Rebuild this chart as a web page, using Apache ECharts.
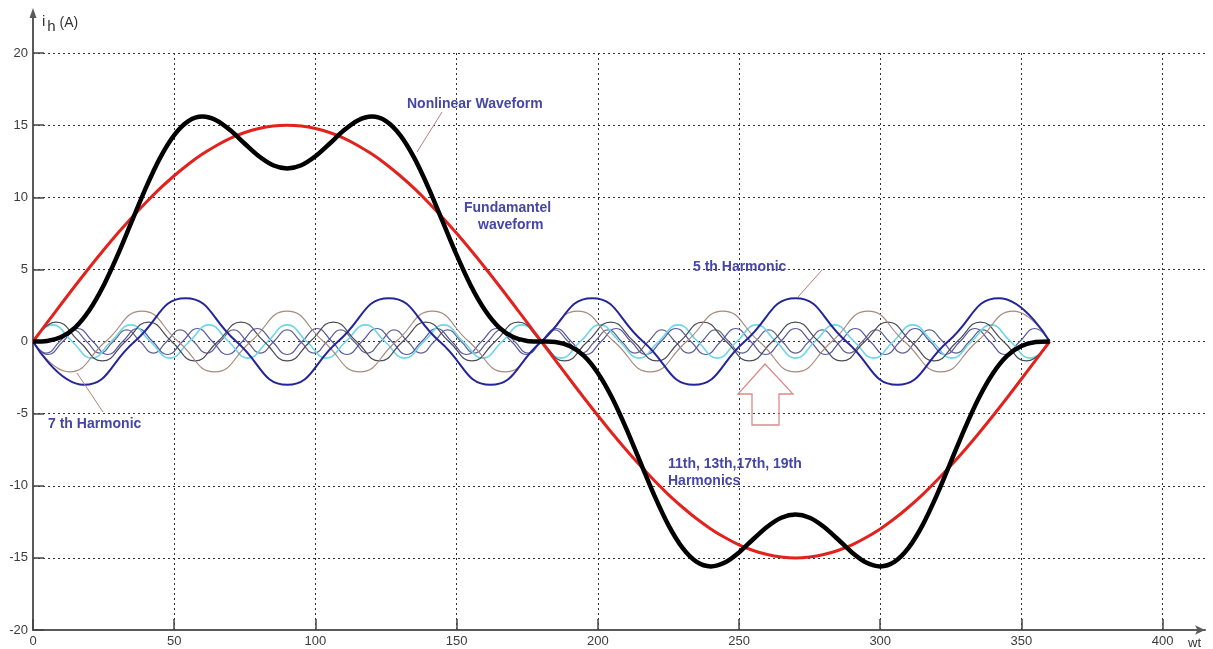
<!DOCTYPE html>
<html>
<head>
<meta charset="utf-8">
<title>Harmonic currents</title>
<script src="https://cdn.jsdelivr.net/npm/echarts@6/dist/echarts.min.js"></script>
<style>
  html, body { margin: 0; padding: 0; background: #ffffff; }
  #chart { width: 1213px; height: 649px; }
</style>
</head>
<body>
<div id="chart"></div>
<script>
// Axis tick values
const xTicks = [0, 50, 100, 150, 200, 250, 300, 350, 400];

// Fundamental current (A) against wt (deg)
const fundX = [0, 5, 10, 15, 20, 25, 30, 35, 40, 45, 50, 55, 60, 65, 70, 75, 80, 85, 90,
  95, 100, 105, 110, 115, 120, 125, 130, 135, 140, 145, 150, 155, 160, 165, 170, 175, 180,
  185, 190, 195, 200, 205, 210, 215, 220, 225, 230, 235, 240, 245, 250, 255, 260, 265, 270,
  275, 280, 285, 290, 295, 300, 305, 310, 315, 320, 325, 330, 335, 340, 345, 350, 355, 360];
const fundY = [0, 1.31, 2.6, 3.88, 5.13, 6.34, 7.5, 8.6, 9.64, 10.61, 11.49, 12.29, 12.99,
  13.59, 14.1, 14.49, 14.77, 14.94, 15, 14.94, 14.77, 14.49, 14.1, 13.59, 12.99, 12.29,
  11.49, 10.61, 9.64, 8.6, 7.5, 6.34, 5.13, 3.88, 2.6, 1.31, 0,
  -1.31, -2.6, -3.88, -5.13, -6.34, -7.5, -8.6, -9.64, -10.61, -11.49, -12.29, -12.99,
  -13.59, -14.1, -14.49, -14.77, -14.94, -15, -14.94, -14.77, -14.49, -14.1, -13.59, -12.99,
  -12.29, -11.49, -10.61, -9.64, -8.6, -7.5, -6.34, -5.13, -3.88, -2.6, -1.31, 0];

// Nonlinear (distorted) current
const nonlinX = [0, 5, 10, 15, 20, 25, 30, 35, 40, 45, 50, 55, 60, 65, 70, 75, 80, 85, 90,
  95, 100, 105, 110, 115, 120, 125, 130, 135, 140, 145, 150, 155, 160, 165, 170, 175, 180,
  185, 190, 195, 200, 205, 210, 215, 220, 225, 230, 235, 240, 245, 250, 255, 260, 265, 270,
  275, 280, 285, 290, 295, 300, 305, 310, 315, 320, 325, 330, 335, 340, 345, 350, 355, 360];
const nonlinY = [0, 0.04, 0.31, 0.98, 2.18, 3.88, 6.0, 8.34, 10.67, 12.73, 14.31, 15.28, 15.59,
  15.32, 14.62, 13.71, 12.84, 12.22, 12.0, 12.22, 12.84, 13.71, 14.62, 15.32, 15.59, 15.28,
  14.31, 12.73, 10.67, 8.34, 6.0, 3.88, 2.18, 0.98, 0.31, 0.04, 0,
  -0.04, -0.31, -0.98, -2.18, -3.88, -6.0, -8.34, -10.67, -12.73, -14.31, -15.28, -15.59,
  -15.32, -14.62, -13.71, -12.84, -12.22, -12.0, -12.22, -12.84, -13.71, -14.62, -15.32,
  -15.59, -15.28, -14.31, -12.73, -10.67, -8.34, -6.0, -3.88, -2.18, -0.98, -0.31, -0.04, 0];

// 5th harmonic: zero crossings and extremes
const h5X = [0, 18, 36, 54, 72, 90, 108, 126, 144, 162, 180, 198, 216, 234, 252, 270, 288,
  306, 324, 342, 360];
const h5Y = [0, -3, 0, 3, 0, -3, 0, 3, 0, -3, 0, 3, 0, -3, 0, 3, 0, -3, 0, 3, 0];

// 7th harmonic
const h7X = [0, 12.86, 25.71, 38.57, 51.43, 64.29, 77.14, 90, 102.86, 115.71, 128.57, 141.43,
  154.29, 167.14, 180, 192.86, 205.71, 218.57, 231.43, 244.29, 257.14, 270, 282.86, 295.71,
  308.57, 321.43, 334.29, 347.14, 360];
const h7Y = [0, -2.1, 0, 2.1, 0, -2.1, 0, 2.1, 0, -2.1, 0, 2.1, 0, -2.1, 0, 2.1, 0, -2.1, 0, 2.1,
  0, -2.1, 0, 2.1, 0, -2.1, 0, 2.1, 0];

// 11th harmonic
const h11X = [0, 8.18, 16.36, 24.55, 32.73, 40.91, 49.09, 57.27, 65.45, 73.64, 81.82, 90,
  98.18, 106.36, 114.55, 122.73, 130.91, 139.09, 147.27, 155.45, 163.64, 171.82, 180,
  188.18, 196.36, 204.55, 212.73, 220.91, 229.09, 237.27, 245.45, 253.64, 261.82, 270,
  278.18, 286.36, 294.55, 302.73, 310.91, 319.09, 327.27, 335.45, 343.64, 351.82, 360];
const h11Y = [0, 1.35, 0, -1.35, 0, 1.35, 0, -1.35, 0, 1.35, 0, -1.35, 0, 1.35, 0, -1.35,
  0, 1.35, 0, -1.35, 0, 1.35, 0, -1.35, 0, 1.35, 0, -1.35, 0, 1.35, 0, -1.35, 0, 1.35, 0, -1.35,
  0, 1.35, 0, -1.35, 0, 1.35, 0, -1.35, 0];

// 13th harmonic
const h13X = [0, 6.92, 13.85, 20.77, 27.69, 34.62, 41.54, 48.46, 55.38, 62.31, 69.23, 76.15,
  83.08, 90, 96.92, 103.85, 110.77, 117.69, 124.62, 131.54, 138.46, 145.38, 152.31, 159.23,
  166.15, 173.08, 180, 186.92, 193.85, 200.77, 207.69, 214.62, 221.54, 228.46, 235.38,
  242.31, 249.23, 256.15, 263.08, 270, 276.92, 283.85, 290.77, 297.69, 304.62, 311.54,
  318.46, 325.38, 332.31, 339.23, 346.15, 353.08, 360];
const h13Y = [0, 1.15, 0, -1.15, 0, 1.15, 0, -1.15, 0, 1.15, 0, -1.15, 0, 1.15, 0, -1.15,
  0, 1.15, 0, -1.15, 0, 1.15, 0, -1.15, 0, 1.15, 0, -1.15, 0, 1.15, 0, -1.15, 0, 1.15, 0, -1.15,
  0, 1.15, 0, -1.15, 0, 1.15, 0, -1.15, 0, 1.15, 0, -1.15, 0, 1.15, 0, -1.15, 0];

// 17th harmonic
const h17X = [0, 5.29, 10.59, 15.88, 21.18, 26.47, 31.76, 37.06, 42.35, 47.65, 52.94, 58.24,
  63.53, 68.82, 74.12, 79.41, 84.71, 90, 95.29, 100.59, 105.88, 111.18, 116.47, 121.76,
  127.06, 132.35, 137.65, 142.94, 148.24, 153.53, 158.82, 164.12, 169.41, 174.71, 180,
  185.29, 190.59, 195.88, 201.18, 206.47, 211.76, 217.06, 222.35, 227.65, 232.94, 238.24,
  243.53, 248.82, 254.12, 259.41, 264.71, 270, 275.29, 280.59, 285.88, 291.18, 296.47,
  301.76, 307.06, 312.35, 317.65, 322.94, 328.24, 333.53, 338.82, 344.12, 349.41, 354.71, 360];
const h17Y = [0, -0.9, 0, 0.9, 0, -0.9, 0, 0.9, 0, -0.9, 0, 0.9, 0, -0.9, 0, 0.9,
  0, -0.9, 0, 0.9, 0, -0.9, 0, 0.9, 0, -0.9, 0, 0.9, 0, -0.9, 0, 0.9, 0, -0.9, 0, 0.9,
  0, -0.9, 0, 0.9, 0, -0.9, 0, 0.9, 0, -0.9, 0, 0.9, 0, -0.9, 0, 0.9, 0, -0.9, 0, 0.9,
  0, -0.9, 0, 0.9, 0, -0.9, 0, 0.9, 0, -0.9, 0, 0.9, 0];

// 19th harmonic
const h19X = [0, 4.74, 9.47, 14.21, 18.95, 23.68, 28.42, 33.16, 37.89, 42.63, 47.37, 52.11,
  56.84, 61.58, 66.32, 71.05, 75.79, 80.53, 85.26, 90, 94.74, 99.47, 104.21, 108.95, 113.68,
  118.42, 123.16, 127.89, 132.63, 137.37, 142.11, 146.84, 151.58, 156.32, 161.05, 165.79,
  170.53, 175.26, 180, 184.74, 189.47, 194.21, 198.95, 203.68, 208.42, 213.16, 217.89,
  222.63, 227.37, 232.11, 236.84, 241.58, 246.32, 251.05, 255.79, 260.53, 265.26, 270,
  274.74, 279.47, 284.21, 288.95, 293.68, 298.42, 303.16, 307.89, 312.63, 317.37, 322.11,
  326.84, 331.58, 336.32, 341.05, 345.79, 350.53, 355.26, 360];
const h19Y = [0, -0.8, 0, 0.8, 0, -0.8, 0, 0.8, 0, -0.8, 0, 0.8, 0, -0.8, 0, 0.8,
  0, -0.8, 0, 0.8, 0, -0.8, 0, 0.8, 0, -0.8, 0, 0.8, 0, -0.8, 0, 0.8, 0, -0.8, 0, 0.8,
  0, -0.8, 0, 0.8, 0, -0.8, 0, 0.8, 0, -0.8, 0, 0.8, 0, -0.8, 0, 0.8, 0, -0.8, 0, 0.8,
  0, -0.8, 0, 0.8, 0, -0.8, 0, 0.8, 0, -0.8, 0, 0.8, 0, -0.8, 0, 0.8, 0];

function pairs(xs, ys) { return xs.map((x, i) => [x, ys[i]]); }

function wave(name, xs, ys, color, width, z, smooth) {
  return {
    name: name, type: 'line', data: pairs(xs, ys), smooth: smooth,
    showSymbol: false, symbol: 'none', silent: true, z: z,
    lineStyle: { color: color, width: width }
  };
}

const FONT = '"Liberation Sans", Arial, sans-serif';
const NOTE = '#4646a6';
const LEADER = '#b7807a';
const AXIS = '#5a5a5a';

const chart = echarts.init(document.getElementById('chart'), null, { renderer: 'canvas' });

chart.setOption({
  backgroundColor: '#ffffff',
  animation: false,
  grid: { left: 33, right: 8, top: 53, bottom: 19, containLabel: false },
  xAxis: {
    type: 'value', min: 0, max: 415, interval: 50,
    axisLine: { show: true, onZero: false, symbol: ['none', 'arrow'], symbolSize: [7, 10],
      lineStyle: { color: AXIS, width: 2 } },
    axisTick: { show: true, inside: true, length: 11, customValues: xTicks,
      lineStyle: { color: '#444', width: 1.5 } },
    axisLabel: { customValues: xTicks, color: '#3c3c3c', fontSize: 13, fontFamily: FONT, margin: 5 },
    splitLine: { show: true, lineStyle: { color: '#333', width: 1, type: [2, 3] } }
  },
  yAxis: {
    type: 'value', min: -20, max: 20, interval: 5,
    axisLine: { show: true, onZero: false, lineStyle: { color: AXIS, width: 2 } },
    axisTick: { show: true, inside: true, length: 11, lineStyle: { color: '#444', width: 1.5 } },
    axisLabel: { color: '#3c3c3c', fontSize: 13, fontFamily: FONT, margin: 5 },
    splitLine: { show: true, lineStyle: { color: '#333', width: 1, type: [2, 3] } }
  },
  series: [
    wave('19th', h19X, h19Y, '#62628c', 1.2, 2, 0.5),
    wave('17th', h17X, h17Y, '#5656a4', 1.2, 2, 0.5),
    wave('13th', h13X, h13Y, '#6fd6e8', 1.6, 2, 0.5),
    wave('11th', h11X, h11Y, '#4c4c58', 1.2, 2, 0.5),
    wave('7th', h7X, h7Y, '#a88a7c', 1.2, 2, 0.5),
    wave('5th', h5X, h5Y, '#25259a', 2, 3, 0.5),
    wave('Fundamental', fundX, fundY, '#e2221d', 3, 4, 0.3),
    wave('Nonlinear', nonlinX, nonlinY, '#000000', 4.5, 5, 0.3)
  ],
  graphic: [
    // y axis continues above the plot area and ends in an arrow
    { type: 'line', silent: true, shape: { x1: 33, y1: 53, x2: 33, y2: 16 },
      style: { stroke: AXIS, lineWidth: 2 } },
    { type: 'polygon', silent: true, shape: { points: [[33, 8], [29.5, 18], [36.5, 18]] },
      style: { fill: AXIS } },

    { type: 'text', left: 42, top: 14, silent: true,
      style: { text: '{i|i}{h|h}{u| (A)}', rich: {
        i: { fontSize: 15, fontFamily: FONT, fill: '#333' },
        h: { fontSize: 15, fontFamily: FONT, fill: '#333', padding: [10, 0, 0, 2] },
        u: { fontSize: 14, fontFamily: FONT, fill: '#333', padding: [4, 0, 0, 0] } } } },
    { type: 'text', left: 1188, top: 637, silent: true,
      style: { text: 'wt', fontSize: 13, fontFamily: FONT, fill: '#333' } },

    { type: 'text', left: 407, top: 97, silent: true, z: 10,
      style: { text: 'Nonlinear Waveform', font: 'bold 14px ' + FONT, fill: NOTE } },
    { type: 'line', silent: true, z: 10,
      shape: { x1: 442, y1: 112, x2: 417, y2: 152 }, style: { stroke: LEADER, lineWidth: 1 } },

    { type: 'text', left: 464, top: 201, silent: true, z: 10,
      style: { text: 'Fundamantel', font: 'bold 14px ' + FONT, fill: NOTE } },
    { type: 'text', left: 478, top: 218, silent: true, z: 10,
      style: { text: 'waveform', font: 'bold 14px ' + FONT, fill: NOTE } },

    { type: 'text', left: 693, top: 260, silent: true, z: 10,
      style: { text: '5 th Harmonic', font: 'bold 14px ' + FONT, fill: NOTE } },
    { type: 'line', silent: true, z: 10,
      shape: { x1: 822, y1: 270, x2: 798, y2: 297 }, style: { stroke: LEADER, lineWidth: 1 } },

    { type: 'text', left: 48, top: 417, silent: true, z: 10,
      style: { text: '7 th Harmonic', font: 'bold 14px ' + FONT, fill: NOTE } },
    { type: 'line', silent: true, z: 10,
      shape: { x1: 77, y1: 373, x2: 103, y2: 412 }, style: { stroke: LEADER, lineWidth: 1 } },

    { type: 'text', left: 668, top: 457, silent: true, z: 10,
      style: { text: '11th, 13th,17th, 19th', font: 'bold 14px ' + FONT, fill: NOTE } },
    { type: 'text', left: 668, top: 474, silent: true, z: 10,
      style: { text: 'Harmonics', font: 'bold 14px ' + FONT, fill: NOTE } },
    { type: 'polygon', silent: true, z: 10,
      shape: { points: [[765, 364], [793, 394], [779, 394], [779, 425], [752, 425], [752, 394], [738, 394]] },
      style: { fill: 'none', stroke: '#d98c8a', lineWidth: 1.3 } }
  ]
});
</script>
</body>
</html>
